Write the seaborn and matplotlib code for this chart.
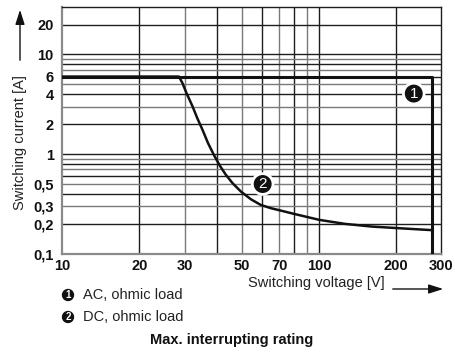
import numpy as np
import pandas as pd
import matplotlib
matplotlib.use("Agg")
import matplotlib.pyplot as plt
import seaborn as sns

# curve 1: AC, ohmic load
ac_voltage = [10, 275, 275]
ac_current = [6, 6, 0.1]

# curve 2: DC, ohmic load
dc_voltage = [10, 28.5, 29.4, 30.5, 32.2, 33.6, 35.2, 37.0, 39.0, 41.2, 43.4, 46.1, 49.7,
              54.3, 59.4, 65.0, 71.2, 80.3, 100.5, 126, 160, 204, 275]
dc_current = [6, 6.0, 5.19, 4.11, 3.02, 2.30, 1.76, 1.29, 0.98, 0.76, 0.62, 0.51, 0.42,
              0.352, 0.308, 0.286, 0.270, 0.25, 0.218, 0.199, 0.187, 0.18, 0.172]

x_grid = [20, 30, 40, 50, 60, 70, 80, 90, 100, 200]
x_labels = [10, 20, 30, 50, 70, 100, 200, 300]
y_grid = [0.2, 0.3, 0.4, 0.5, 0.6, 0.7, 0.8, 0.9, 1, 2, 3, 4, 5, 6, 7, 8, 9, 10, 20]
y_labels = [0.1, 0.2, 0.3, 0.5, 1, 2, 4, 6, 10, 20]

sns.set_theme(style="white")
plt.rcParams['font.family'] = ['Liberation Sans', 'DejaVu Sans']

fig = plt.figure(figsize=(4.55, 3.53), dpi=100)
ax = fig.add_axes([0.1363, 0.2816, 0.834, 0.6986])
ax.set_xscale('log')
ax.set_yscale('log')
ax.set_xlim(10, 300)
ax.set_ylim(0.1, 30)


def fmt(v):
    s = ('%g' % v).replace('.', ',')
    return s


def shade(v):
    m = v / 10 ** np.floor(np.log10(v) + 1e-9)
    return '#7a7a7a' if round(m) in (3, 5, 7, 9) else '#1e1e1e'


for v in x_grid:
    ax.axvline(v, color=shade(v), lw=1.0, zorder=1)
for v in y_grid:
    ax.axhline(v, color=shade(v), lw=1.0, zorder=1)

ax.xaxis.set_major_locator(matplotlib.ticker.FixedLocator(x_labels))
ax.xaxis.set_major_formatter(matplotlib.ticker.FixedFormatter([fmt(v) for v in x_labels]))
ax.xaxis.set_minor_locator(matplotlib.ticker.NullLocator())
ax.yaxis.set_major_locator(matplotlib.ticker.FixedLocator(y_labels))
ax.yaxis.set_major_formatter(matplotlib.ticker.FixedFormatter([fmt(v) for v in y_labels]))
ax.yaxis.set_minor_locator(matplotlib.ticker.NullLocator())
ax.tick_params(axis='both', length=0, labelsize=10.5, colors='#111111')
ax.tick_params(axis='x', pad=4)
ax.tick_params(axis='y', pad=6)
for lab in ax.get_xticklabels() + ax.get_yticklabels():
    lab.set_fontweight('bold')

df_ac = pd.DataFrame({'V': ac_voltage, 'A': ac_current})
df_dc = pd.DataFrame({'V': dc_voltage, 'A': dc_current})
sns.lineplot(data=df_dc, x='V', y='A', sort=False, estimator=None, color='#111111', lw=1.8, ax=ax, zorder=3)
sns.lineplot(data=df_ac, x='V', y='A', sort=False, estimator=None, color='#111111', lw=2.2, ax=ax, zorder=4)
ax.set_xlabel('')
ax.set_ylabel('')

for s in ['left', 'bottom']:
    ax.spines[s].set_color('#8a8a8a')
    ax.spines[s].set_linewidth(1.6)
for s in ['top', 'right']:
    ax.spines[s].set_color('#1e1e1e')
    ax.spines[s].set_linewidth(1.0)

circ = dict(boxstyle='circle,pad=0.22', fc='#111111', ec='white', lw=2)
ax.text(234, 4.05, '1', color='white', fontsize=11, ha='center', va='center', bbox=circ, zorder=5)
ax.text(60.4, 0.50, '2', color='white', fontsize=11, ha='center', va='center', bbox=circ, zorder=5)

# axis titles with arrows
fig.text(20 / 455, 1 - 143 / 353, 'Switching current [A]', rotation=90, ha='center', va='center', fontsize=10.5, color='#222222')
fig.text(316 / 455, 1 - 283 / 353, 'Switching voltage [V]', ha='center', va='center', fontsize=10.5, color='#222222')
arrow = dict(arrowstyle='-|>,head_length=1.1,head_width=0.35', color='#111111', lw=1.0, mutation_scale=8)
fig.patches.append(matplotlib.patches.FancyArrowPatch((20 / 455, 1 - 63 / 353), (20 / 455, 1 - 7 / 353),
                                                      transform=fig.transFigure, **arrow))
fig.patches.append(matplotlib.patches.FancyArrowPatch((390 / 455, 1 - 289 / 353), (446 / 455, 1 - 289 / 353),
                                                      transform=fig.transFigure, **arrow))

# legend
small = dict(boxstyle='circle,pad=0.12', fc='#111111', ec='none')
fig.text(68 / 455, 1 - 295 / 353, '1', color='white', fontsize=7, fontweight='bold', ha='center', va='center', bbox=small)
fig.text(68 / 455, 1 - 317 / 353, '2', color='white', fontsize=7, fontweight='bold', ha='center', va='center', bbox=small)
fig.text(83 / 455, 1 - 295 / 353, 'AC, ohmic load', fontsize=10.5, ha='left', va='center', color='#222222')
fig.text(83 / 455, 1 - 317 / 353, 'DC, ohmic load', fontsize=10.5, ha='left', va='center', color='#222222')
fig.text(232 / 455, 1 - 340 / 353, 'Max. interrupting rating', fontsize=10.5, fontweight='bold', ha='center', va='center', color='#111111')

fig.savefig('out.png', dpi=100)
